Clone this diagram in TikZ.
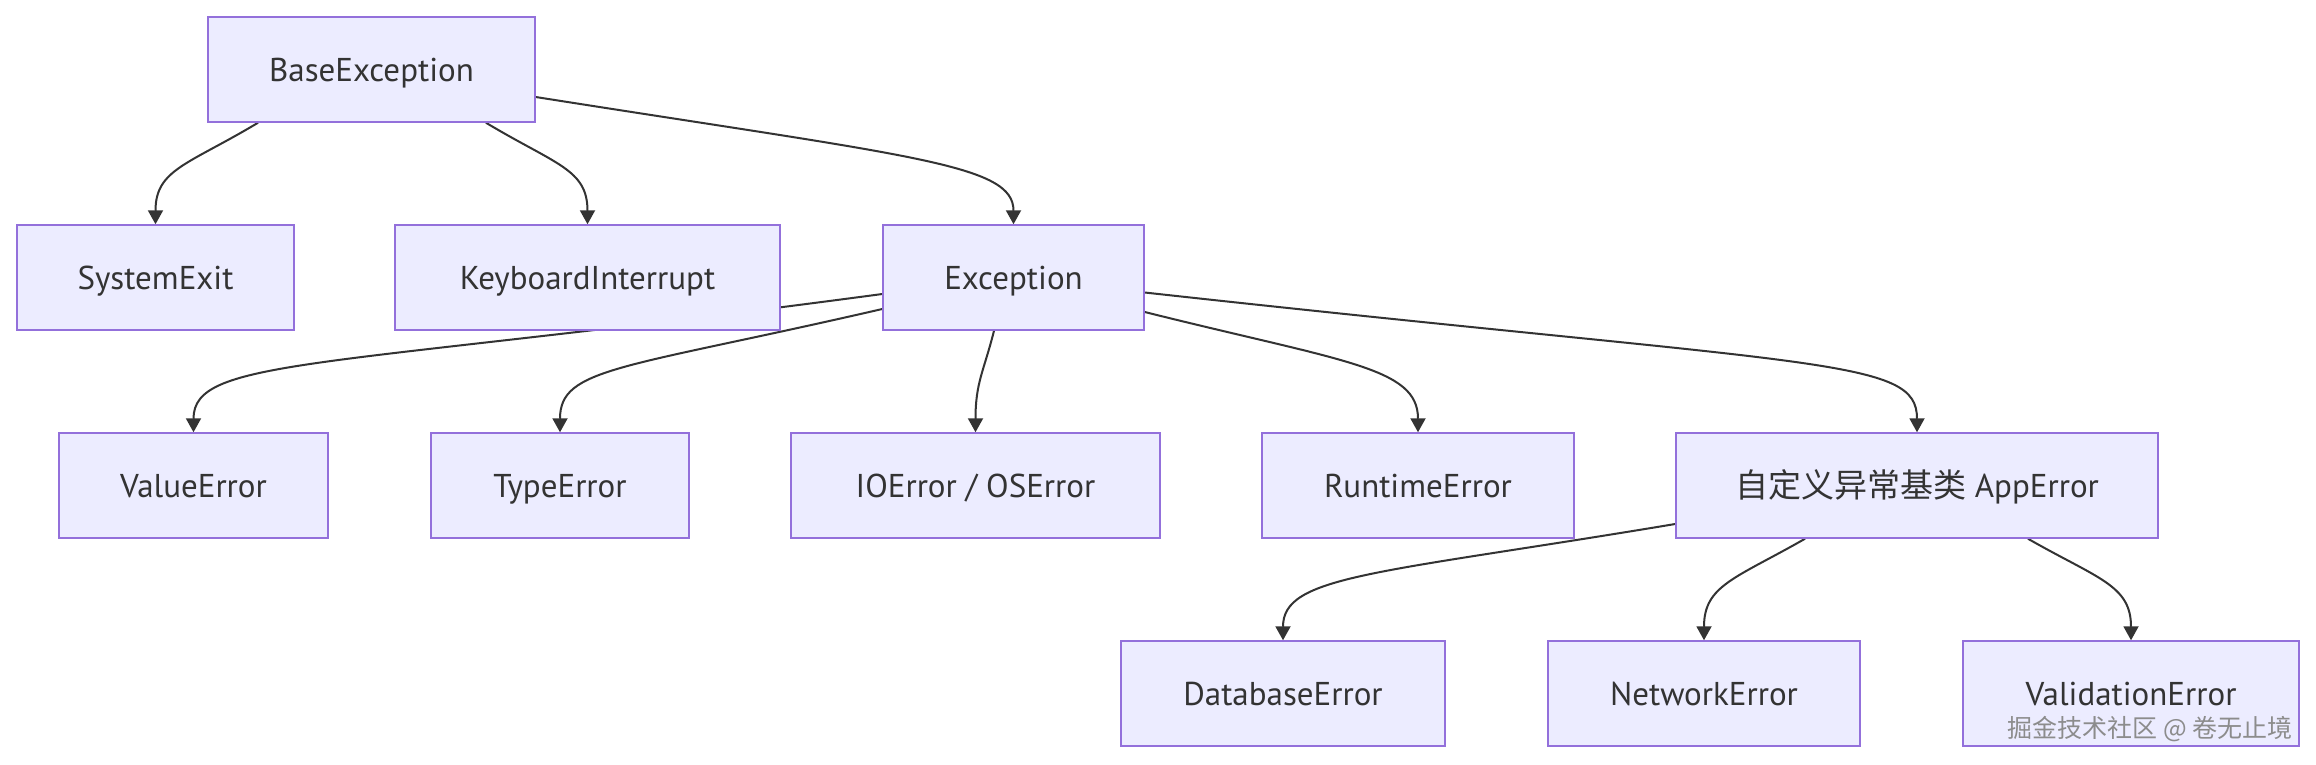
\documentclass[tikz,border=0pt]{standalone}
\usepackage{fontspec}
\setmainfont{PT Sans}
\newfontfamily\cjk{Noto Sans CJK SC}
\usetikzlibrary{arrows.meta,backgrounds}
\definecolor{boxfill}{HTML}{ECECFF}
\definecolor{boxline}{HTML}{9370DB}
\definecolor{edgecol}{HTML}{333333}
\tikzset{
  cls/.style={draw=boxline, fill=boxfill, line width=1.5pt, minimum height=105pt,
    inner sep=0pt, text=edgecol, text height=23pt, text depth=0pt,
    font=\fontsize{33}{38}\selectfont},
  inherit/.style={draw=edgecol, line width=2pt, -{Triangle[length=14pt,width=15pt]}},
}
\begin{document}
\begin{tikzpicture}[x=1pt,y=-1pt]
		\useasboundingbox (0,0) rectangle (2316,764);
		
		% Корень
		\node[cls, minimum width=327pt] (base) at (371.5,69.5) {BaseException};
		
		% Второй уровень
		\node[cls, minimum width=277pt] (sysexit) at (155.5,277.5) {SystemExit};
		\node[cls, minimum width=385pt] (kbint) at (587.5,277.5) {KeyboardInterrupt};
		\node[cls, minimum width=261pt] (exc) at (1013.5,277.5) {Exception};
		
		% Третий уровень
		\node[cls, minimum width=269pt] (valerr) at (193.5,485.5) {ValueError};
		\node[cls, minimum width=258pt] (typeerr) at (560,485.5) {TypeError};
		\node[cls, minimum width=369pt] (ioerr) at (975.5,485.5) {IOError / OSError};
		\node[cls, minimum width=312pt] (rterr) at (1418,485.5) {RuntimeError};
		\node[cls, minimum width=482pt] (apperr) at (1917,485.5) {{\cjk 自定义异常基类} AppError};
		
		% Свои исключения
		\node[cls, minimum width=324pt] (dberr) at (1283,693.5) {DatabaseError};
		\node[cls, minimum width=312pt] (neterr) at (1704,693.5) {NetworkError};
		\node[cls, minimum width=336pt] (validerr) at (2131,693.5) {ValidationError};
		
		\node[text=gray!90, font=\fontsize{25}{28}\selectfont\cjk] (mark) at (2150,729) {掘金技术社区 @ 卷无止境};
		
		% Стрелки
		\begin{scope}[on background layer]
		\fill[white] (0,0) rectangle (2316,764);
		\draw[inherit] ([xshift=-113.5pt]base.south) .. controls +(-70,42) and +(0,-55) .. (sysexit.north);
		\draw[inherit] ([xshift=114.5pt]base.south) .. controls +(70,42) and +(0,-55) .. (kbint.north);
		\draw[inherit] ([yshift=-27.5pt]base.east) .. controls +(380,60) and +(0,-60) .. (exc.north);
		\draw[inherit] ([yshift=-16.5pt]exc.west) .. controls +(-560,75) and +(0,-75) .. (valerr.north);
		\draw[inherit] ([yshift=-31.5pt]exc.west) .. controls +(-260,60) and +(0,-65) .. (typeerr.north);
		\draw[inherit] ([xshift=-19.5pt]exc.south) .. controls +(-10,40) and +(0,-50) .. (ioerr.north);
		\draw[inherit] ([yshift=-34.5pt]exc.east) .. controls +(200,50) and +(0,-65) .. (rterr.north);
		\draw[inherit] ([yshift=-15pt]exc.east) .. controls +(680,75) and +(0,-75) .. (apperr.north);
		\draw[inherit] ([yshift=-38.5pt]apperr.west) .. controls +(-300,50) and +(0,-65) .. (dberr.north);
		\draw[inherit] ([xshift=-112pt]apperr.south) .. controls +(-70,40) and +(0,-55) .. (neterr.north);
		\draw[inherit] ([xshift=111pt]apperr.south) .. controls +(70,40) and +(0,-55) .. (validerr.north);
		\end{scope}
	\end{tikzpicture}
\end{document}
